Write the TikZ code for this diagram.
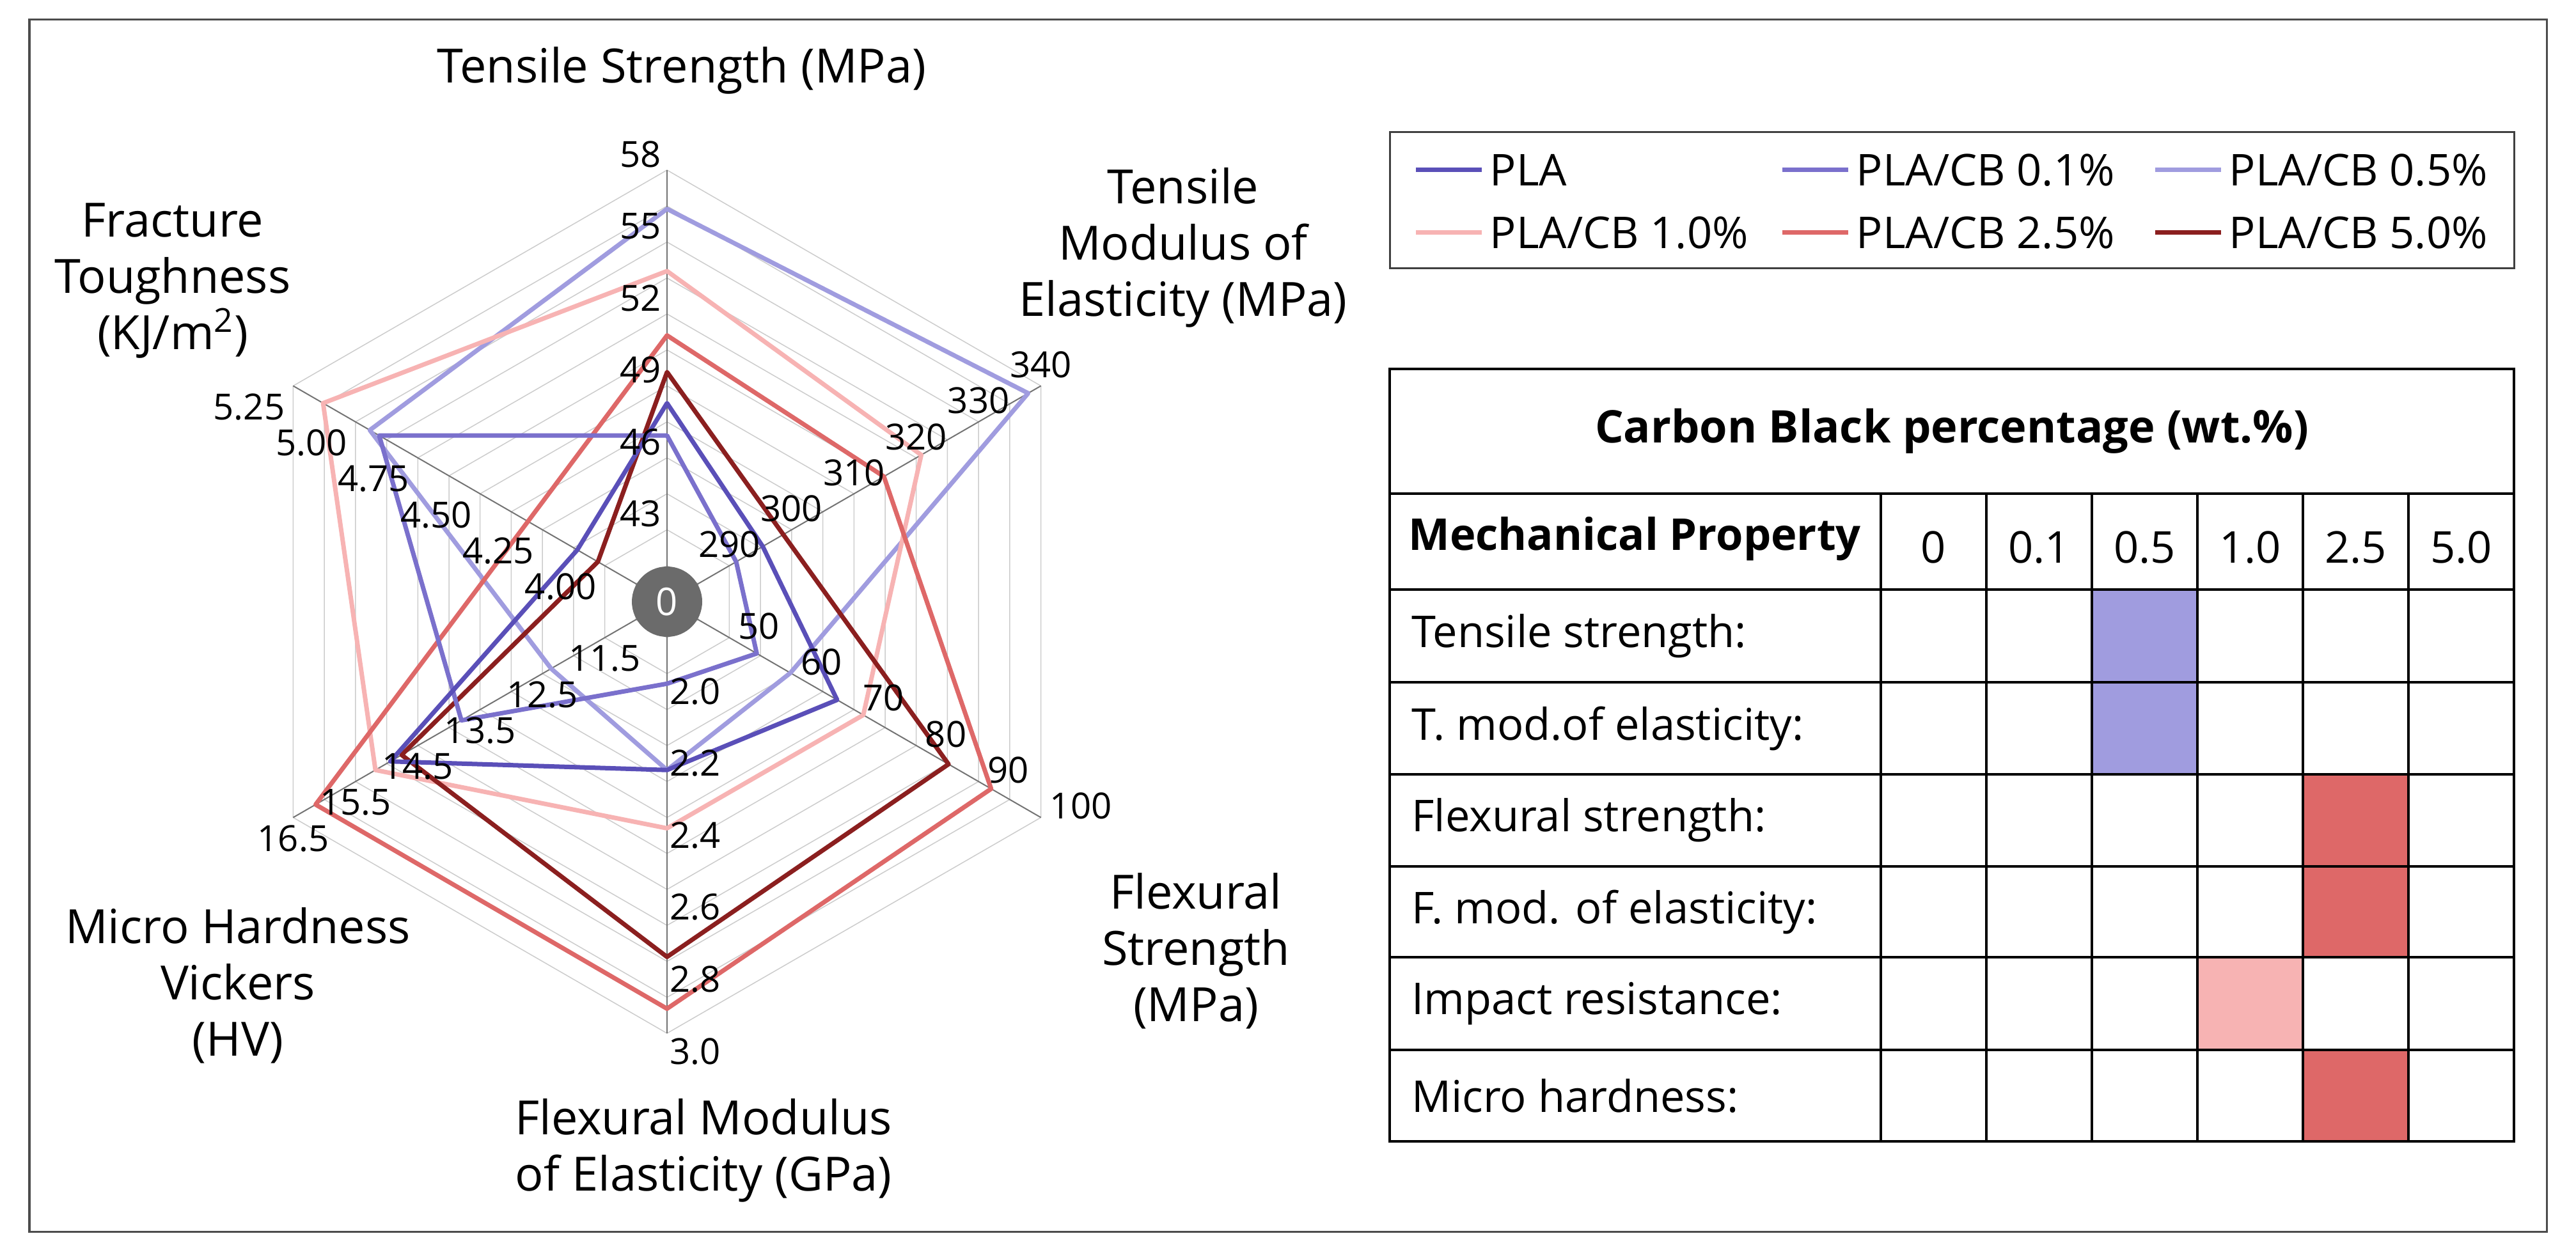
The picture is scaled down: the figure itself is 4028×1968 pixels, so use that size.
\documentclass[tikz,border=0pt]{standalone}
\usepackage{fontspec}
\setmainfont{Open Sans}
\definecolor{cPLA}{HTML}{5A4FB8}
\definecolor{cA}{HTML}{7A70CC}
\definecolor{cB}{HTML}{A09CDF}
\definecolor{cC}{HTML}{F7B3B3}
\definecolor{cD}{HTML}{DE6868}
\definecolor{cE}{HTML}{8B1F1F}
\begin{document}
\begin{tikzpicture}[x=0.01cm,y=0.01cm,
  ttl/.style={font=\fontsize{21}{25}\selectfont,align=center},
  tick/.style={font=\fontsize{16}{18}\selectfont,inner sep=1pt},
  txt/.style={font=\fontsize{19.5}{23}\selectfont},
  ser/.style={line width=0.07cm,line join=round},
  leg/.style={line width=0.07cm}]
\useasboundingbox (0,0) rectangle (4028,1968);
\draw[line width=0.03cm,black!70] (46,42) rectangle (3982,1937);
% chart
\begin{scope}[shift={(1043,1027)}]
  \foreach \i in {1,...,12}{
    \pgfmathsetmacro\r{675*\i/12}
    \draw[black!20,line width=0.015cm] (90:\r)--(30:\r)--(-30:\r)--(-90:\r)--(-150:\r)--(150:\r)--cycle;}
  \foreach \a in {90,30,-30,-90,-150,150} \draw[black!55,line width=0.02cm] (0,0)--(\a:675);
  \def\poly#1#2#3#4#5#6{(90:{675*#1}) -- (30:{675*#2}) -- (-30:{675*#3}) -- (-90:{675*#4}) -- (-150:{675*#5}) -- (150:{675*#6}) -- cycle}
  \draw[ser,cB] \poly{0.91}{0.966}{0.33}{0.39}{0.31}{0.795};
  \draw[ser,cC] \poly{0.766}{0.68}{0.525}{0.525}{0.78}{0.92};
  \draw[ser,cD] \poly{0.617}{0.58}{0.867}{0.943}{0.94}{0.372};
  \draw[ser,cE] \poly{0.532}{0.311}{0.753}{0.823}{0.71}{0.185};
  \draw[ser,cA] \poly{0.385}{0.185}{0.24}{0.19}{0.55}{0.77};
  \draw[ser,cPLA] \poly{0.46}{0.256}{0.455}{0.39}{0.74}{0.24};
  \foreach \v [count=\k] in {43,46,49,52,55,58} \node[tick,anchor=south east,xshift=-0.05cm] at (90:{675*\k/6}) {\v};
  \foreach \v [count=\k] in {290,300,310,320,330,340} \node[tick,anchor=south,yshift=0.08cm] at (30:{675*\k/6}) {\v};
  \foreach \v [count=\k] in {50,60,70,80,90,100} \node[tick,anchor=west,yshift=0.18cm,xshift=0.1cm] at (-30:{675*\k/6}) {\v};
  \foreach \v [count=\k] in {2.0,2.2,2.4,2.6,2.8,3.0} \node[tick,anchor=north west,yshift=-0.03cm] at (-90:{675*\k/6}) {\v};
  \foreach \v [count=\k] in {11.5,12.5,13.5,14.5,15.5,16.5} \node[tick,anchor=north,yshift=-0.08cm] at (-150:{675*\k/6}) {\v};
  \foreach \v [count=\k] in {4.00,4.25,4.50,4.75,5.00,5.25} \node[tick,anchor=north east,xshift=-0.09cm,yshift=-0.08cm] at (150:{675*\k/6}) {\v};
  \fill[black!58] (0,0) circle (55);
  \node[tick,white,font=\fontsize{17}{19}\selectfont] (zero) at (0,0) {0};
\end{scope}
\node[ttl] (t1) at (1066,1858) {Tensile Strength (MPa)};
\node[ttl] (t2) at (1850,1581) {Tensile\\Modulus of\\Elasticity (MPa)};
\node[ttl] (t3) at (1870,481) {Flexural\\Strength\\(MPa)};
\node[ttl] (t4) at (1100,169) {Flexural Modulus\\of Elasticity (GPa)};
\node[ttl] (t5) at (372,427) {Micro Hardness\\Vickers\\(HV)};
\node[ttl] (t6) at (270,1529) {Fracture\\Toughness\\(KJ/m\textsuperscript{2})};
% legend
\draw[line width=0.03cm,black!75] (2173,1548) rectangle (3931,1761);
\foreach \c/\t/\x/\y in {cPLA/PLA/2214/1702, cA/PLA\slash CB 0.1\%/2787/1702, cB/PLA\slash CB 0.5\%/3370/1702,
  cC/PLA\slash CB 1.0\%/2214/1604, cD/PLA\slash CB 2.5\%/2787/1604, cE/PLA\slash CB 5.0\%/3370/1604}{
  \draw[leg,\c] (\x,\y) -- ++(103,0);
  \node[txt,anchor=west,inner sep=2pt] at (\x+108,\y) {\t};}
% table
\fill[cB] (3271,757) rectangle (3436,1046);
\fill[cD] (3601,471) rectangle (3766,757);
\fill[cD] (3601,183) rectangle (3766,326);
\fill[cC] (3436,326) rectangle (3601,471);
\draw[line width=0.035cm] (2173,183) rectangle (3931,1391);
\foreach \y in {1196,1046,901,757,613,471,326} \draw[line width=0.035cm] (2173,\y)--(3931,\y);
\foreach \x in {2941,3106,3271,3436,3601,3766} \draw[line width=0.035cm] (\x,183)--(\x,1196);
\node[txt,font=\fontsize{20}{23}\selectfont\bfseries] (ttab) at (3052,1294) {Carbon Black percentage (wt.\%)};
\node[txt,anchor=west,font=\fontsize{19.5}{23}\selectfont\bfseries] (mp) at (2190,1125) {Mechanical Property};
\foreach \v [count=\k] in {0,0.1,0.5,1.0,2.5,5.0}
  \node[txt] at ({2941+165*(\k-0.5)},1112) {\v};
\foreach \t/\y in {Tensile strength:/973, T. mod.of elasticity:/829, Flexural strength:/685, F. mod. of elasticity:/542, Impact resistance:/398, Micro hardness:/254}
  \node[txt,anchor=west] at (2195,\y) {\t};
\end{tikzpicture}
\end{document}
